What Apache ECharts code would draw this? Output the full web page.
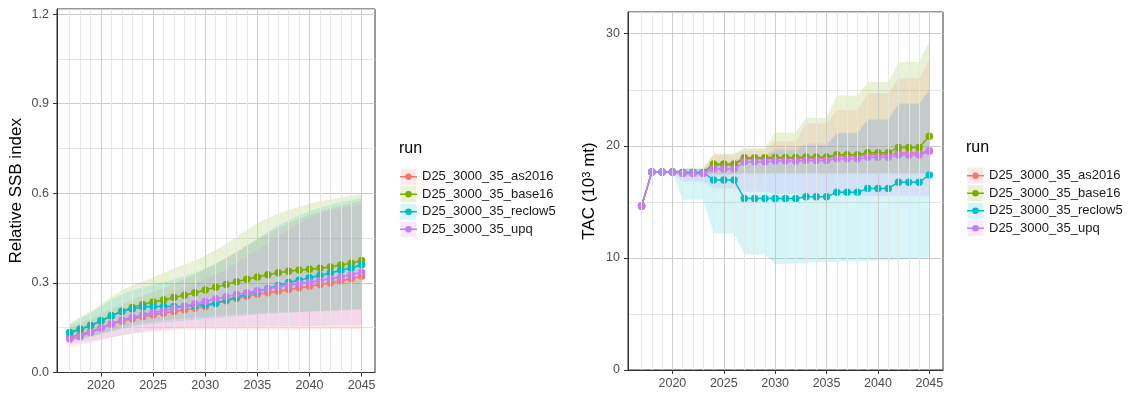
<!DOCTYPE html>
<html>
<head>
<meta charset="utf-8">
<script src="https://cdn.jsdelivr.net/npm/echarts@6/dist/echarts.min.js"></script>
<style>
  html, body { margin: 0; padding: 0; background: #fff; }
  #chart { width: 1129px; height: 394px; }
</style>
</head>
<body>
<div id="chart"></div>
<script>
// ---- data ----
const years = [2017, 2018, 2019, 2020, 2021, 2022, 2023, 2024, 2025, 2026, 2027, 2028, 2029, 2030,
  2031, 2032, 2033, 2034, 2035, 2036, 2037, 2038, 2039, 2040, 2041, 2042, 2043, 2044, 2045];
const labelYears = [2020, 2025, 2030, 2035, 2040, 2045];
const runs = ['D25_3000_35_as2016', 'D25_3000_35_base16', 'D25_3000_35_reclow5', 'D25_3000_35_upq'];
const runColors = ['#F8766D', '#7CAE00', '#00BFC4', '#C77CFF'];
const bandColors = ['rgba(248,118,109,0.16)', 'rgba(124,174,0,0.16)', 'rgba(0,191,196,0.16)', 'rgba(199,124,255,0.16)'];

// relative SSB index (median)
const ssbAs2016 = [.118, .127, .137, .150, .162, .172, .180, .187, .193, .199, .204, .210, .215, .221,
  .231, .240, .248, .255, .262, .267, .272, .278, .284, .289, .295, .300, .307, .314, .322];
const ssbBase16 = [.134, .145, .157, .173, .190, .205, .218, .228, .236, .243, .251, .259, .267, .276,
  .285, .295, .304, .312, .320, .327, .334, .339, .343, .346, .349, .353, .360, .366, .375];
const ssbReclow5 = [.134, .145, .157, .173, .190, .204, .213, .219, .221, .221, .221, .222, .224, .227,
  .232, .243, .252, .262, .271, .281, .291, .301, .309, .317, .325, .333, .342, .350, .361];
const ssbUpq = [.112, .120, .134, .148, .163, .176, .185, .193, .201, .207, .215, .222, .230, .238,
  .247, .254, .261, .267, .274, .280, .286, .292, .297, .302, .308, .314, .320, .327, .336];

// SSB ribbons (lower / upper)
const ssbAs2016Lo = [.095, .100, .106, .112, .118, .124, .129, .133, .137, .140, .142, .143, .144, .145,
  .145, .145, .145, .145, .145, .145, .145, .145, .145, .145, .146, .146, .146, .146, .146];
const ssbAs2016Hi = [.150, .165, .180, .196, .212, .228, .243, .257, .270, .283, .297, .312, .328, .346,
  .365, .385, .405, .425, .445, .465, .484, .500, .515, .528, .540, .550, .558, .566, .574];
const ssbBase16Lo = [.105, .112, .120, .130, .140, .150, .158, .165, .170, .175, .178, .181, .184, .187,
  .190, .192, .194, .196, .198, .200, .201, .202, .203, .204, .205, .206, .207, .208, .209];
const ssbBase16Hi = [.165, .185, .205, .228, .255, .275, .292, .305, .318, .333, .348, .362, .376, .392,
  .410, .430, .455, .478, .500, .517, .532, .545, .555, .565, .573, .580, .586, .592, .598];
const ssbReclow5Lo = [.105, .112, .120, .128, .137, .145, .152, .158, .163, .167, .170, .173, .176, .179,
  .182, .185, .188, .191, .194, .196, .198, .200, .202, .204, .206, .208, .210, .212, .214];
const ssbReclow5Hi = [.160, .180, .200, .222, .245, .262, .275, .285, .293, .302, .312, .322, .334, .348,
  .364, .382, .402, .425, .448, .470, .492, .510, .526, .540, .552, .562, .570, .577, .583];
const ssbUpqLo = [.085, .092, .100, .108, .116, .124, .131, .137, .142, .146, .148, .150, .151, .152,
  .152, .153, .153, .154, .154, .155, .155, .155, .156, .156, .156, .157, .157, .157, .158];
const ssbUpqHi = [.140, .152, .165, .178, .192, .206, .220, .233, .246, .258, .270, .283, .297, .312,
  .328, .346, .366, .388, .410, .432, .455, .478, .500, .518, .532, .542, .550, .556, .560];

// TAC (10^3 mt, median)
const tacAs2016 = [14.63, 17.66, 17.66, 17.66, 17.6, 17.6, 17.6, 18.3, 18.3, 18.3, 18.85, 18.85, 18.85, 18.88,
  18.88, 18.88, 18.9, 18.9, 18.9, 19.1, 19.1, 19.1, 19.2, 19.2, 19.2, 19.35, 19.35, 19.35, 19.55];
const tacBase16 = [14.63, 17.66, 17.66, 17.66, 17.6, 17.6, 17.6, 18.38, 18.38, 18.38, 18.94, 18.94, 18.94, 18.96,
  18.96, 18.96, 19.0, 19.0, 19.0, 19.21, 19.21, 19.21, 19.39, 19.39, 19.39, 19.86, 19.86, 19.86, 20.85];
const tacReclow5 = [14.63, 17.66, 17.66, 17.66, 17.62, 17.62, 17.62, 16.95, 16.95, 16.95, 15.3, 15.3, 15.3, 15.3,
  15.3, 15.3, 15.45, 15.45, 15.45, 15.85, 15.85, 15.85, 16.2, 16.2, 16.2, 16.75, 16.75, 16.75, 17.4];
const tacUpq = [14.63, 17.66, 17.66, 17.66, 17.54, 17.54, 17.54, 17.93, 17.93, 17.93, 18.58, 18.58, 18.58, 18.64,
  18.64, 18.64, 18.7, 18.7, 18.7, 18.85, 18.85, 18.85, 18.97, 18.97, 18.97, 19.18, 19.18, 19.18, 19.51];

// TAC ribbons (lower / upper)
const tacAs2016Lo = [14.63, 17.66, 17.66, 17.66, 17.2, 17.2, 17.2, 17.4, 17.4, 17.4, 17.5, 17.5, 17.5, 17.5,
  17.5, 17.5, 17.5, 17.5, 17.5, 17.5, 17.5, 17.5, 17.5, 17.5, 17.5, 17.5, 17.5, 17.5, 17.5];
const tacAs2016Hi = [14.63, 17.66, 17.66, 17.66, 18.0, 18.0, 18.0, 19.2, 19.2, 19.2, 19.6, 19.6, 19.6, 20.4,
  20.4, 20.4, 22.0, 22.0, 22.0, 23.2, 23.2, 23.2, 24.7, 24.7, 24.7, 26.0, 26.0, 26.0, 27.7];
const tacBase16Lo = [14.63, 17.66, 17.66, 17.66, 17.3, 17.3, 17.3, 17.5, 17.5, 17.5, 17.6, 17.6, 17.6, 17.6,
  17.6, 17.6, 17.6, 17.6, 17.6, 17.6, 17.6, 17.6, 17.6, 17.6, 17.6, 17.6, 17.6, 17.6, 17.6];
const tacBase16Hi = [14.63, 17.66, 17.66, 17.66, 18.0, 18.0, 18.0, 19.3, 19.3, 19.3, 19.8, 19.8, 19.8, 21.2,
  21.2, 21.2, 22.5, 22.5, 22.5, 24.5, 24.5, 24.5, 25.7, 25.7, 25.7, 27.5, 27.5, 27.5, 29.3];
const tacReclow5Lo = [14.63, 17.66, 17.66, 17.66, 15.2, 15.2, 15.2, 12.2, 12.2, 12.2, 10.3, 10.3, 10.3, 9.45,
  9.45, 9.5, 9.55, 9.6, 9.6, 9.65, 9.7, 9.7, 9.75, 9.8, 9.8, 9.85, 9.9, 9.95, 10.0];
const tacReclow5Hi = [14.63, 17.66, 17.66, 17.66, 17.9, 17.9, 17.9, 18.4, 18.4, 18.4, 19.0, 19.0, 19.0, 19.6,
  19.6, 19.6, 20.0, 20.0, 20.0, 21.1, 21.1, 21.1, 22.3, 22.3, 22.3, 23.7, 23.7, 23.7, 24.9];
const tacUpqLo = [14.63, 17.66, 17.66, 17.66, 16.8, 16.8, 16.8, 16.2, 16.2, 16.2, 15.9, 15.9, 15.9, 15.7,
  15.7, 15.7, 15.6, 15.6, 15.6, 15.6, 15.6, 15.6, 15.5, 15.5, 15.5, 15.5, 15.5, 15.5, 15.5];
const tacUpqHi = [14.63, 17.66, 17.66, 17.66, 17.9, 17.9, 17.9, 18.6, 18.6, 18.6, 19.2, 19.2, 19.2, 19.8,
  19.8, 19.8, 20.2, 20.2, 20.2, 21.2, 21.2, 21.2, 22.4, 22.4, 22.4, 23.8, 23.8, 23.8, 25.0];

const ssbLines = [ssbAs2016, ssbBase16, ssbReclow5, ssbUpq];
const ssbBands = [[ssbAs2016Lo, ssbAs2016Hi], [ssbBase16Lo, ssbBase16Hi], [ssbReclow5Lo, ssbReclow5Hi], [ssbUpqLo, ssbUpqHi]];
const tacLines = [tacAs2016, tacBase16, tacReclow5, tacUpq];
const tacBands = [[tacAs2016Lo, tacAs2016Hi], [tacBase16Lo, tacBase16Hi], [tacReclow5Lo, tacReclow5Hi], [tacUpqLo, tacUpqHi]];

// ---- helpers ----
const MAJOR = '#cccccc';
const MINOR = '#e6e6e6';
const AXIS = '#333333';
const TXT = '#4d4d4d';
const FONT = 'Liberation Sans, Arial, sans-serif';

function bandSeries(idx, lo, hi, color) {
  const pts = years.map((y, i) => [y, lo[i], hi[i]]);
  return {
    type: 'custom',
    name: 'band' + idx + color,
    xAxisIndex: idx,
    yAxisIndex: idx,
    z: 2,
    silent: true,
    clip: true,
    data: pts,
    encode: { x: 0, y: [1, 2] },
    renderItem: function (params, api) {
      if (params.dataIndex !== 0) return;
      const top = pts.map(p => api.coord([p[0], p[2]]));
      const bot = pts.map(p => api.coord([p[0], p[1]])).reverse();
      return { type: 'polygon', shape: { points: top.concat(bot) }, style: { fill: color } };
    }
  };
}

function lineSeries(idx, name, vals, color) {
  return {
    type: 'line',
    name: name,
    xAxisIndex: idx,
    yAxisIndex: idx,
    z: 3,
    data: years.map((y, i) => [y, vals[i]]),
    symbol: 'circle',
    symbolSize: 7.5,
    showSymbol: true,
    lineStyle: { width: 1.5, color: color },
    itemStyle: { color: color, borderWidth: 0 },
    emphasis: { disabled: true }
  };
}

// vertical grid lines at every year (majors at labelled years)
function gridSeries(idx) {
  return {
    type: 'line',
    name: 'vgrid' + idx,
    xAxisIndex: idx,
    yAxisIndex: idx,
    z: 1,
    data: [],
    markLine: {
      silent: true,
      symbol: 'none',
      label: { show: false },
      animation: false,
      data: years.map(y => ({
        xAxis: y,
        lineStyle: { color: labelYears.includes(y) ? MAJOR : MINOR, width: 1, type: 'solid' }
      }))
    }
  };
}

function xAxisOpt(idx, min, max) {
  return {
    gridIndex: idx, type: 'value', min: min, max: max,
    axisLine: { show: true, onZero: false, lineStyle: { color: AXIS, width: 1 } },
    axisTick: { show: true, length: 4, customValues: labelYears, lineStyle: { color: AXIS } },
    axisLabel: { customValues: labelYears, color: TXT, fontSize: 12.5, margin: 7, fontFamily: FONT,
      formatter: v => String(Math.round(v)) },
    splitLine: { show: false }
  };
}

function yAxisOpt(idx, max, step, fmt, name, nameGap, rich) {
  return {
    gridIndex: idx, type: 'value', min: 0, max: max, interval: step,
    name: name, nameLocation: 'middle', nameGap: nameGap,
    nameTextStyle: Object.assign({ fontSize: 17, color: '#000', fontFamily: FONT }, rich ? { rich: rich } : {}),
    axisLine: { show: true, lineStyle: { color: AXIS, width: 1 } },
    axisTick: { show: true, length: 4, lineStyle: { color: AXIS } },
    axisLabel: { color: TXT, fontSize: 12.5, margin: 8, showMaxLabel: false, fontFamily: FONT, formatter: fmt },
    splitLine: { show: true, lineStyle: { color: MAJOR, width: 1 } },
    minorTick: { show: false, splitNumber: 2 },
    minorSplitLine: { show: true, lineStyle: { color: MINOR, width: 1 } }
  };
}

// legend key: line with a dot; two near-invisible corner specks keep the icon box 17x17
const keyIcon = 'path://M0,0L0.01,0L0,0.01Z M17,17L16.99,17L17,16.99Z ' +
  'M0,7.8L5.6,7.8L5.6,9.2L0,9.2Z M11.4,7.8L17,7.8L17,9.2L11.4,9.2Z ' +
  'M5.2,8.5A3.3,3.3,0,1,1,11.8,8.5A3.3,3.3,0,1,1,5.2,8.5Z';
const KEY_PITCH = 17.5;

function legendOpt(left, top) {
  return {
    orient: 'vertical', left: left, top: top, padding: 0,
    itemWidth: 17, itemHeight: 17, itemGap: KEY_PITCH - 17,
    icon: keyIcon,
    itemStyle: { borderWidth: 0 },
    selectedMode: false,
    textStyle: { fontSize: 13, color: '#1a1a1a', fontFamily: FONT },
    data: runs
  };
}

function keyRects(left, top) {
  return runs.map((r, i) => ({
    type: 'rect', z: 0,
    shape: { x: left + 0.5, y: top + i * KEY_PITCH + 0.5, width: 16, height: 16 },
    style: { fill: bandColors[i] }
  }));
}

const series = [gridSeries(0), gridSeries(1)];
ssbBands.forEach((b, i) => series.push(bandSeries(0, b[0], b[1], bandColors[i])));
tacBands.forEach((b, i) => series.push(bandSeries(1, b[0], b[1], bandColors[i])));
ssbLines.forEach((v, i) => series.push(lineSeries(0, runs[i], v, runColors[i])));
tacLines.forEach((v, i) => series.push(lineSeries(1, runs[i], v, runColors[i])));

const chart = echarts.init(document.getElementById('chart'));
chart.setOption({
  animation: false,
  backgroundColor: '#fff',
  textStyle: { fontFamily: FONT },
  title: [
    { text: 'run', left: 399, top: 141, padding: 0, textStyle: { fontSize: 16, fontWeight: 'normal', color: '#000' } },
    { text: 'run', left: 966, top: 140, padding: 0, textStyle: { fontSize: 16, fontWeight: 'normal', color: '#000' } }
  ],
  legend: [legendOpt(400, 168.2), legendOpt(967, 167.2)],
  graphic: { elements: keyRects(400, 168.2).concat(keyRects(967, 167.2)) },
  grid: [
    { left: 57, top: 9, width: 318, height: 363.5, show: true, borderColor: AXIS, borderWidth: 1, backgroundColor: 'transparent' },
    { left: 628, top: 12, width: 315, height: 358, show: true, borderColor: AXIS, borderWidth: 1, backgroundColor: 'transparent' }
  ],
  xAxis: [xAxisOpt(0, 2015.78, 2046.28), xAxisOpt(1, 2015.68, 2046.33)],
  yAxis: [
    yAxisOpt(0, 1.217, 0.3, v => v.toFixed(1), 'Relative SSB index', 32, null),
    yAxisOpt(1, 31.94, 10, v => String(Math.round(v)), '{a|TAC (10}{s|3}{a| mt)}', 30, {
      a: { fontSize: 17, color: '#000' },
      s: { fontSize: 11, color: '#000', verticalAlign: 'top', padding: [0, 0, 6, 0] }
    })
  ],
  series: series
});
</script>
</body>
</html>
